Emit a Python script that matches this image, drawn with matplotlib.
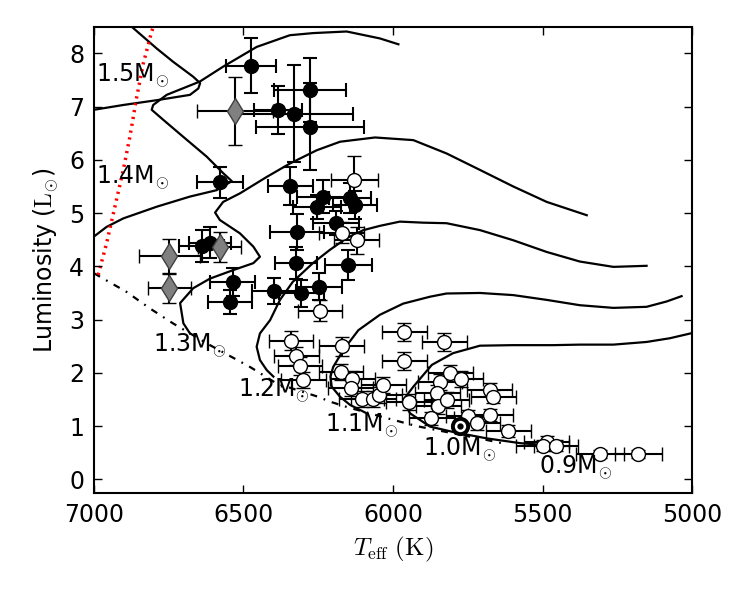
import matplotlib
matplotlib.use("Agg")
import matplotlib.pyplot as plt
import numpy as np

matplotlib.rcParams['mathtext.fontset'] = 'cm'
matplotlib.rcParams['font.family'] = 'DejaVu Sans'
matplotlib.rcParams['lines.scale_dashes'] = False

# ---- evolutionary tracks (Teff [K], L [Lsun]) ----
trk15_T = [7060, 7000, 6902, 6790, 6679, 6651, 6645, 6668, 6735, 6790, 6874, 6910]
trk15_L = [6.88, 6.94, 7.03, 7.12, 7.22, 7.34, 7.44, 7.56, 7.84, 8.09, 8.50, 8.65]

trk14_T = [7030, 7000, 6958, 6902, 6790, 6679, 6590, 6539, 6568, 6623, 6701, 6768, 6807,
           6802, 6757, 6646, 6568, 6456, 6345, 6267, 6155, 6044, 5982]
trk14_L = [4.45, 4.56, 4.74, 4.90, 5.12, 5.31, 5.43, 5.60, 5.75, 6.06, 6.43, 6.75, 6.94,
           7.03, 7.22, 7.47, 7.75, 8.12, 8.34, 8.38, 8.41, 8.28, 8.17]

trk13_T = [6679, 6701, 6712, 6668, 6612, 6534, 6467, 6445, 6467, 6512, 6579, 6595, 6568,
           6512, 6422, 6345, 6255, 6177, 6060, 5932, 5821, 5709, 5598, 5486, 5352]
trk13_L = [2.74, 2.93, 3.31, 3.59, 3.77, 3.93, 4.06, 4.18, 4.37, 4.62, 4.87, 5.01, 5.21,
           5.37, 5.68, 5.93, 6.18, 6.34, 6.42, 6.37, 6.12, 5.81, 5.50, 5.21, 4.96]

trk12_T = [6400, 6422, 6445, 6456, 6445, 6411, 6378, 6335, 6268, 6211, 6155, 6099, 6044,
           5977, 5899, 5821, 5709, 5598, 5486, 5375, 5263, 5152]
trk12_L = [1.93, 2.05, 2.24, 2.49, 2.74, 2.99, 3.37, 3.71, 4.06, 4.31, 4.53, 4.68, 4.76,
           4.84, 4.82, 4.81, 4.68, 4.49, 4.27, 4.09, 3.99, 4.01]

trk11_T = [6088, 6144, 6177, 6205, 6209, 6200, 6166, 6116, 6044, 5966, 5876, 5821, 5709,
           5598, 5486, 5375, 5263, 5152, 5085, 5035]
trk11_L = [1.24, 1.40, 1.55, 1.74, 1.93, 2.11, 2.43, 2.80, 3.09, 3.30, 3.43, 3.49, 3.50,
           3.46, 3.37, 3.27, 3.22, 3.24, 3.34, 3.44]

trk10_T = [5431, 5486, 5575, 5687, 5799, 5876, 5943, 5966, 5932, 5870, 5799, 5709, 5600,
           5465, 5375, 5263, 5152, 5074, 4990]
trk10_L = [0.62, 0.64, 0.68, 0.77, 0.89, 0.99, 1.24, 1.49, 1.74, 2.15, 2.37, 2.51, 2.52,
           2.52, 2.53, 2.53, 2.58, 2.65, 2.76]

# ZAMS (dash-dot) and red edge (dotted)
zams_T = [7000, 6891, 6813, 6736, 6612, 6478, 6389, 6250, 6211, 6155, 6021, 5921, 5687, 5636]
zams_L = [3.87, 3.52, 3.21, 2.93, 2.52, 2.11, 1.80, 1.55, 1.46, 1.36, 1.15, 1.00, 0.74, 0.68]

red_T = [6986, 6958, 6930, 6902, 6880, 6857, 6835, 6807, 6795]
red_L = [3.84, 4.43, 5.12, 5.81, 6.43, 7.18, 7.81, 8.41, 8.60]

# ---- stars ----
fill_T = [6476, 6384, 6330, 6277, 6277, 6579, 6343, 6233, 6253, 6144, 6127, 6191, 6320,
          6324, 6149, 6247, 6306, 6640, 6612, 6536, 6545, 6398]
fill_L = [7.77, 6.94, 6.87, 7.31, 6.62, 5.58, 5.51, 5.31, 5.11, 5.28, 5.15, 4.81, 4.65,
          4.07, 4.02, 3.62, 3.49, 4.38, 4.44, 3.70, 3.33, 3.54]
fill_dT = [84, 80, 195, 120, 180, 76, 74, 87, 80, 70, 72, 78, 90,
           70, 78, 75, 75, 75, 70, 76, 75, 75]
fill_dL = [0.52, 0.45, 0.92, 0.60, 0.82, 0.29, 0.36, 0.31, 0.23, 0.28, 0.27, 0.23, 0.34,
           0.30, 0.28, 0.25, 0.25, 0.30, 0.29, 0.26, 0.23, 0.25]

dia_T = [6528, 6579, 6748, 6748]
dia_L = [6.92, 4.36, 4.19, 3.59]
dia_dT = [127, 72, 103, 72]
dia_dL = [0.64, 0.28, 0.32, 0.27]

open_T = [6130, 6172, 6121, 6244, 6341, 6172, 5962, 5829, 5962, 6324, 6311, 6300, 6174,
          6136, 6142, 6105, 6066, 6046, 6032, 5947, 5843, 5809, 5774, 5852, 5848, 5820,
          5872, 5748, 5718, 5676, 5665, 5674, 5614, 5486, 5500, 5455, 5308, 5180]
open_L = [5.63, 4.63, 4.49, 3.17, 2.60, 2.50, 2.76, 2.58, 2.22, 2.32, 2.13, 1.86, 2.02,
          1.88, 1.72, 1.51, 1.51, 1.58, 1.78, 1.46, 1.83, 1.99, 1.88, 1.62, 1.38, 1.49,
          1.15, 1.19, 1.05, 1.68, 1.55, 1.21, 0.91, 0.71, 0.63, 0.63, 0.48, 0.48]
open_dT = [79, 75, 75, 75, 75, 75, 75, 75, 75, 75, 75, 75, 75,
           75, 75, 75, 75, 75, 75, 75, 75, 75, 75, 75, 75, 75,
           75, 75, 75, 75, 75, 75, 75, 75, 90, 75, 80, 78]
open_dL = [0.44, 0.20, 0.25, 0.19, 0.18, 0.18, 0.17, 0.17, 0.17, 0.17, 0.17, 0.15, 0.15,
           0.15, 0.15, 0.15, 0.15, 0.15, 0.15, 0.15, 0.15, 0.15, 0.15, 0.15, 0.15, 0.15,
           0.12, 0.12, 0.12, 0.12, 0.12, 0.12, 0.12, 0.10, 0.10, 0.10, 0.08, 0.08]

sun_T, sun_L = 5777, 1.0

mass_labels = ["1.5M$_{\\odot}$", "1.4M$_{\\odot}$", "1.3M$_{\\odot}$", "1.2M$_{\\odot}$",
               "1.1M$_{\\odot}$", "1.0M$_{\\odot}$", "0.9M$_{\\odot}$"]
label_T = [6993, 6993, 6803, 6518, 6228, 5900, 5512]
label_L = [7.45, 5.54, 2.39, 1.55, 0.89, 0.44, 0.10]

fig = plt.figure(figsize=(7.5, 6), dpi=100)
ax = fig.add_axes([0.1253, 0.178, 0.7974, 0.7775])

for tt, ll in [(trk15_T, trk15_L), (trk14_T, trk14_L), (trk13_T, trk13_L),
               (trk12_T, trk12_L), (trk11_T, trk11_L), (trk10_T, trk10_L)]:
    ax.plot(tt, ll, color='black', lw=1.6, zorder=1, solid_joinstyle='round')

ax.plot(zams_T, zams_L, color='black', lw=1.6, ls=(0, (5, 5, 1.3, 5)), zorder=1)
ax.plot(red_T, red_L, color='red', lw=2.5, ls=(0, (1.6, 3.4)), zorder=1)

ebkw = dict(ecolor='black', elinewidth=1.5, capsize=5, capthick=1.5, ls='none')
ax.errorbar(fill_T, fill_L, xerr=fill_dT, yerr=fill_dL, fmt='o', ms=10,
            mfc='black', mec='black', zorder=3, **ebkw)
ax.errorbar(dia_T, dia_L, xerr=dia_dT, yerr=dia_dL, fmt='d', ms=13,
            mfc='#808080', mec='#404040', mew=1, zorder=3, **ebkw)
ax.errorbar(open_T, open_L, xerr=open_dT, yerr=open_dL, fmt='o', ms=10,
            mfc='white', mec='black', mew=1, zorder=3, **ebkw)

ax.plot(sun_T, sun_L, 'o', ms=11, mfc='white', mec='black', mew=2.8, zorder=5)
ax.plot(sun_T, sun_L, 'o', ms=3.5, mfc='black', mec='black', zorder=6)

for s, tx, ly in zip(mass_labels, label_T, label_L):
    ax.text(tx, ly, s, fontsize=17, ha='left', va='baseline', zorder=4)

ax.set_xlim(7000, 5000)
ax.set_ylim(-0.26, 8.5)
ax.set_xticks([7000, 6500, 6000, 5500, 5000])
ax.set_yticks(range(0, 9))
ax.tick_params(direction='in', length=6, width=1, top=True, right=True,
               labelsize=17, pad=7)
for sp in ax.spines.values():
    sp.set_linewidth(1.5)

ax.set_xlabel(r"$T_{\rm eff}\ {\rm (K)}$", fontsize=18, labelpad=6)
ax.set_ylabel(r"Luminosity (${\rm L_{\odot}}$)", fontsize=17, labelpad=6)

fig.savefig("out.png", dpi=100)
